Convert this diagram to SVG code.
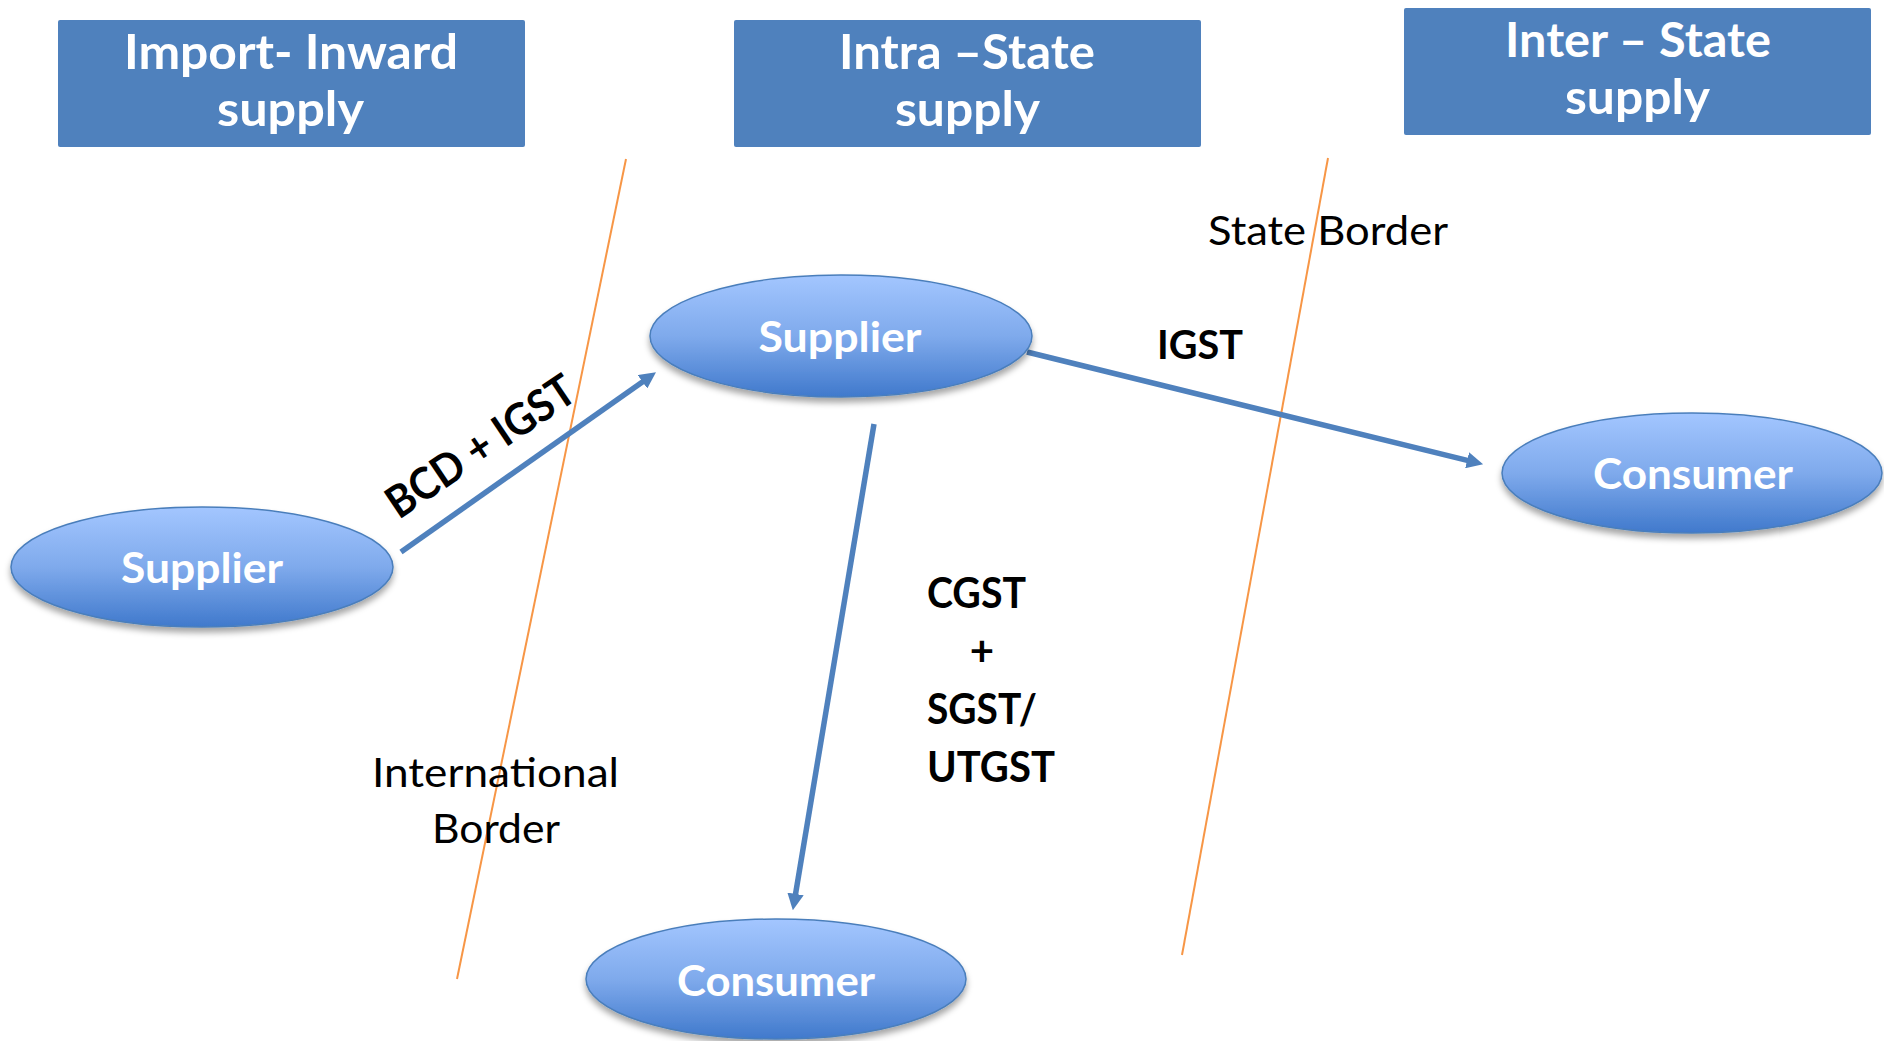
<svg xmlns="http://www.w3.org/2000/svg" width="1884" height="1041" viewBox="0 0 1884 1041">
<defs>
<style>
.hdr{fill:#4F81BD;}
.hdrtxt{font-family:Lato,"Open Sans",sans-serif;font-weight:bold;font-size:47px;fill:#FFFFFF;}
.ell{fill:url(#eg);stroke:#4A7EBB;stroke-width:1.5;filter:url(#sh);}
.etxt{font-family:Lato,"Open Sans",sans-serif;font-weight:bold;font-size:42px;fill:#FFFFFF;text-anchor:middle;}
.arrow{stroke:#4F81BD;stroke-width:5.5;fill:none;marker-end:url(#ah);}
.border{stroke:#F79646;stroke-width:2;fill:none;}
.lbl{font-family:Lato,"Open Sans",sans-serif;font-weight:bold;fill:#000000;}
.reg{font-family:Lato,"Open Sans",sans-serif;font-size:41px;fill:#000000;}
</style>
<linearGradient id="eg" x1="0" y1="0" x2="0" y2="1">
<stop offset="0" stop-color="#A3C6FF"/>
<stop offset="0.5" stop-color="#7FAAEC"/>
<stop offset="1" stop-color="#4079CC"/>
</linearGradient>
<filter id="sh" x="-10%" y="-20%" width="120%" height="150%">
<feDropShadow dx="0" dy="5" stdDeviation="3" flood-color="#000000" flood-opacity="0.35"/>
</filter>
<marker id="ah" viewBox="0 0 10 10" refX="2" refY="5" markerWidth="3" markerHeight="3" orient="auto" markerUnits="strokeWidth">
<path d="M0,0 L10,5 L0,10 z" fill="#4F81BD"/>
</marker>
</defs>
<rect width="1884" height="1041" fill="#FFFFFF"/>

<g id="header-import">
<rect class="hdr" x="58" y="20" width="467" height="127" rx="2"/>
<text class="hdrtxt" x="124" y="69" textLength="334" lengthAdjust="spacingAndGlyphs">Import- Inward</text>
<text class="hdrtxt" x="217" y="126" textLength="147" lengthAdjust="spacingAndGlyphs">supply</text>
</g>
<g id="header-intra">
<rect class="hdr" x="734" y="20" width="467" height="127" rx="2"/>
<text class="hdrtxt" x="839" y="69" textLength="256" lengthAdjust="spacingAndGlyphs">Intra –State</text>
<text class="hdrtxt" x="895" y="126" textLength="145" lengthAdjust="spacingAndGlyphs">supply</text>
</g>
<g id="header-inter">
<rect class="hdr" x="1404" y="8" width="467" height="127" rx="2"/>
<text class="hdrtxt" x="1505" y="57" textLength="266" lengthAdjust="spacingAndGlyphs">Inter – State</text>
<text class="hdrtxt" x="1565" y="114" textLength="145" lengthAdjust="spacingAndGlyphs">supply</text>
</g>

<g id="borders">
<line class="border" x1="626" y1="159" x2="457" y2="979"/>
<line class="border" x1="1328" y1="158" x2="1182" y2="955"/>
</g>

<g id="connectors">
<line class="arrow" x1="401" y1="552" x2="645.2" y2="379.9"/>
<line class="arrow" x1="1027" y1="352" x2="1470.3" y2="461.1"/>
<line class="arrow" x1="874" y1="424" x2="795.0" y2="897.2"/>
</g>

<g id="supplier-import">
<ellipse class="ell" cx="202" cy="567" rx="191" ry="60"/>
<text class="etxt" x="202" y="583" textLength="162" lengthAdjust="spacingAndGlyphs">Supplier</text>
</g>
<g id="supplier-main">
<ellipse class="ell" cx="841" cy="336" rx="191" ry="61"/>
<text class="etxt" x="840" y="352" textLength="163" lengthAdjust="spacingAndGlyphs">Supplier</text>
</g>
<g id="consumer-inter">
<ellipse class="ell" cx="1692" cy="473" rx="190" ry="60"/>
<text class="etxt" x="1693" y="489" textLength="200" lengthAdjust="spacingAndGlyphs">Consumer</text>
</g>
<g id="consumer-intra">
<ellipse class="ell" cx="776" cy="979" rx="190" ry="60"/>
<text class="etxt" x="776" y="996" textLength="198" lengthAdjust="spacingAndGlyphs">Consumer</text>
</g>

<g id="labels">
<text class="lbl" font-size="44" text-anchor="middle" transform="translate(489,459) rotate(-34)" textLength="218" lengthAdjust="spacingAndGlyphs">BCD + IGST</text>
<text class="lbl" font-size="40" x="1157" y="359" textLength="86" lengthAdjust="spacingAndGlyphs">IGST</text>
<text class="lbl" font-size="42" x="927" y="608" textLength="99" lengthAdjust="spacingAndGlyphs">CGST</text>
<text class="lbl" font-size="42" x="982" y="666" text-anchor="middle">+</text>
<text class="lbl" font-size="42" x="927" y="724" textLength="110" lengthAdjust="spacingAndGlyphs">SGST/</text>
<text class="lbl" font-size="42" x="927" y="782" textLength="128" lengthAdjust="spacingAndGlyphs">UTGST</text>
<text class="reg" x="1208" y="245" textLength="240" lengthAdjust="spacingAndGlyphs">State Border</text>
<text class="reg" x="372" y="787" textLength="247" lengthAdjust="spacingAndGlyphs">International</text>
<text class="reg" x="432" y="843" textLength="128" lengthAdjust="spacingAndGlyphs">Border</text>
</g>
</svg>
